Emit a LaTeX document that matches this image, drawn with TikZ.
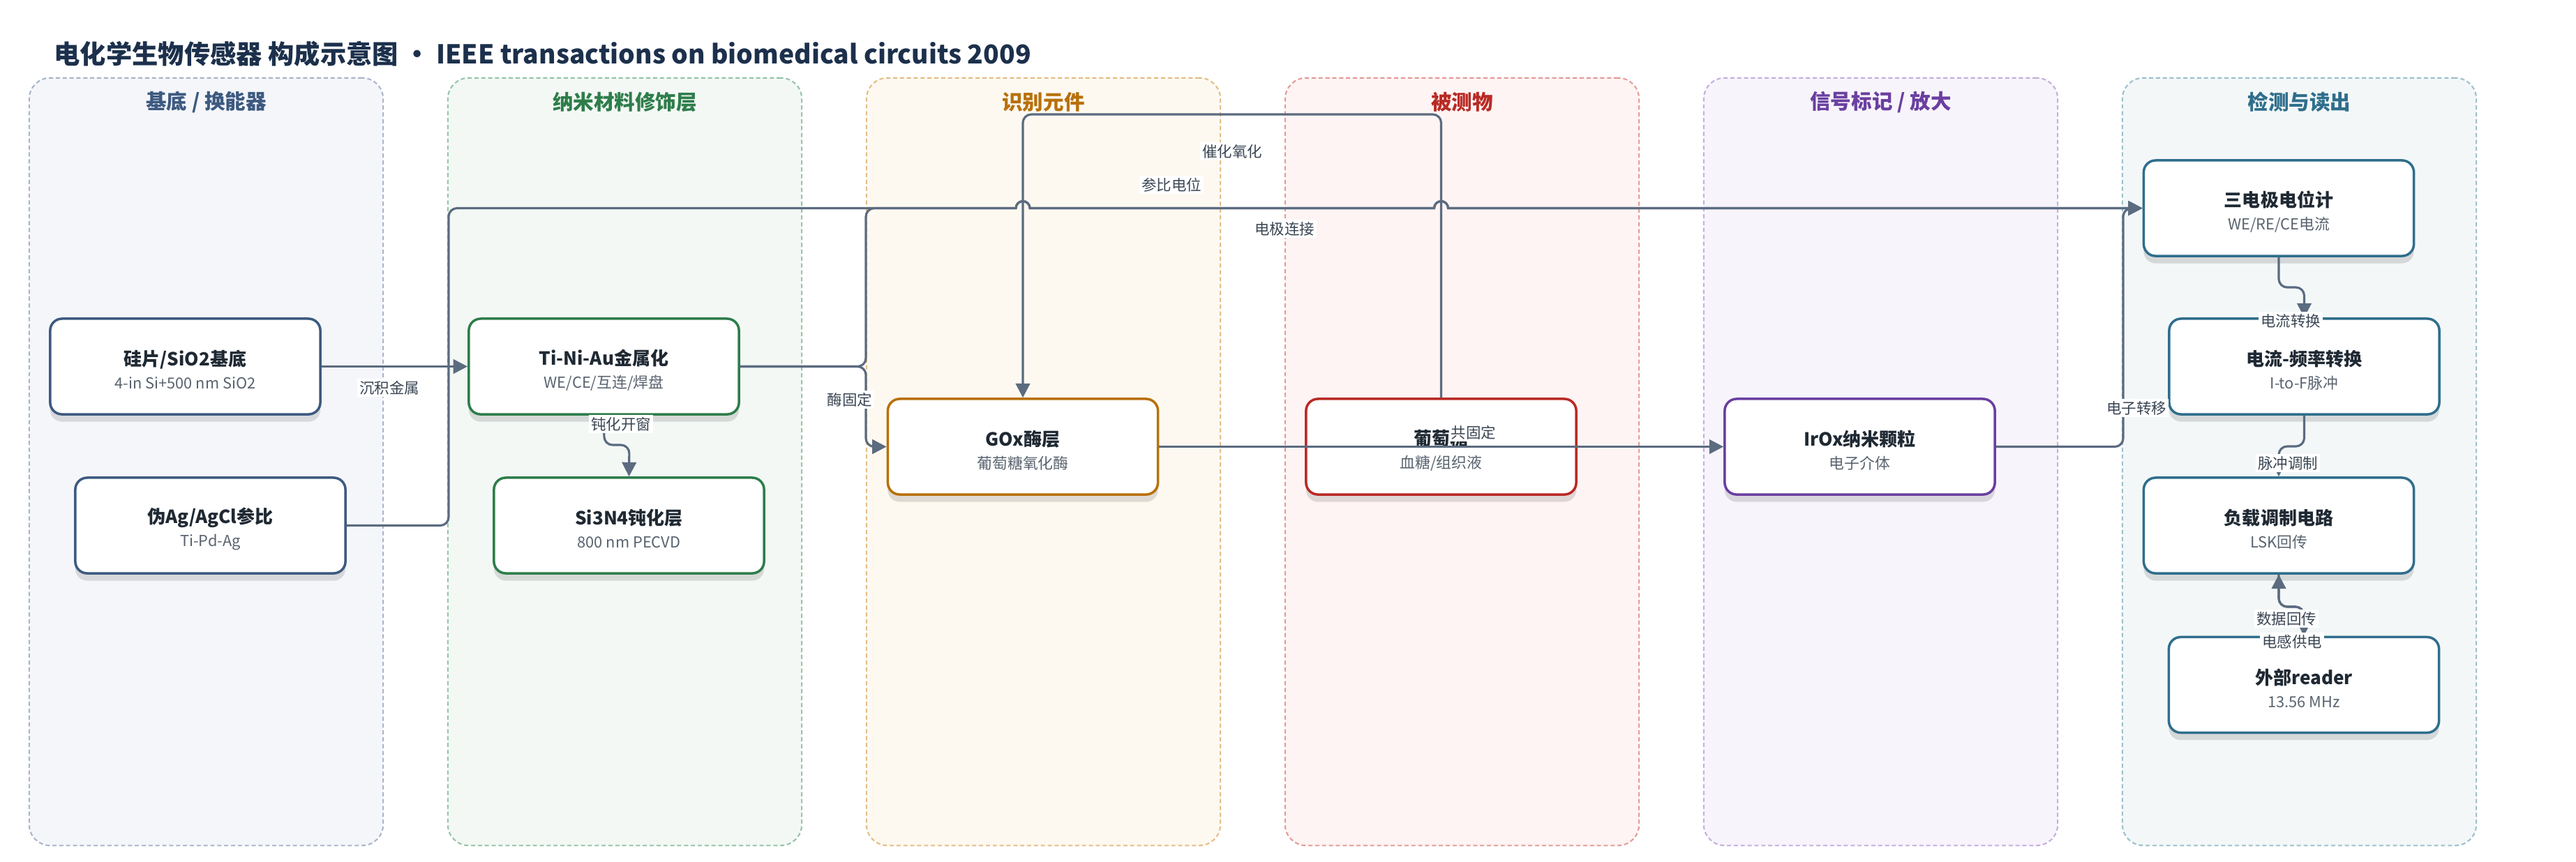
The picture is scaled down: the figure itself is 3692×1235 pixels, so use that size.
\documentclass[tikz,border=0pt]{standalone}
\usepackage{fontspec}
\setmainfont{Noto Sans CJK SC}
\usepackage{xcolor}
\usepackage{tikz}
\usetikzlibrary{arrows.meta,shadows,positioning}

\definecolor{titlec}{HTML}{1C304C}
\definecolor{wirec}{HTML}{5B6B80}
\definecolor{namec}{HTML}{1F2933}
\definecolor{subc}{HTML}{59636F}
\definecolor{lblc}{HTML}{3A4654}
% lanes: fill / border / ink
\definecolor{subfill}{HTML}{F5F6FA}\definecolor{subline}{HTML}{A9B5C9}\definecolor{subink}{HTML}{3D5A80}
\definecolor{nanofill}{HTML}{F3F8F5}\definecolor{nanoline}{HTML}{96C5A6}\definecolor{nanoink}{HTML}{2E7D4A}
\definecolor{recfill}{HTML}{FDF9F1}\definecolor{recline}{HTML}{E4BE86}\definecolor{recink}{HTML}{B8700A}
\definecolor{anafill}{HTML}{FDF4F3}\definecolor{analine}{HTML}{E49C98}\definecolor{anaink}{HTML}{B92A25}
\definecolor{labfill}{HTML}{F7F4FB}\definecolor{labline}{HTML}{C5AFDD}\definecolor{labink}{HTML}{6A3FA0}
\definecolor{detfill}{HTML}{F3F7F8}\definecolor{detline}{HTML}{9EC1CC}\definecolor{detink}{HTML}{2F6E8C}

\tikzset{lane/.style={rectangle,rounded corners=0.3cm,dash pattern=on 1.7pt off 1.1pt,line width=0.6pt,minimum width=5.07cm,minimum height=11cm,inner sep=0pt}}
\tikzset{head/.style={font=\fontsize{8.4}{10}\selectfont\bfseries}}
\tikzset{box/.style={rectangle,rounded corners=0.17cm,draw,line width=1pt,fill=white,minimum width=3.87cm,minimum height=1.37cm,align=center,inner sep=0pt,font=\fontsize{6.2}{9.4}\selectfont,drop shadow={shadow xshift=0pt,shadow yshift=-3pt,opacity=0.12,fill=black}}}
\tikzset{wire/.style={draw=wirec,line width=0.9pt,rounded corners=0.12cm}}
\tikzset{lbl/.style={fill=white,inner sep=0.8pt,font=\fontsize{6.1}{7}\selectfont,text=lblc}}
\newcommand{\boxtext}[2]{\rule{0pt}{9.1pt}{\fontsize{7.4}{9.4}\selectfont\bfseries\color{namec}#1}\\{\color{subc}#2}}

\begin{document}
\begin{tikzpicture}[x=0.01cm,y=-0.01cm,>={Triangle[length=5.8pt,width=5.8pt]}]
    \useasboundingbox (0,0) rectangle (3692,1235);

    % lanes
    \node[lane,draw=subline,fill=subfill] (lsub) at (295.5,662) {};
    \node[lane,draw=nanoline,fill=nanofill] (lnano) at (895.5,662) {};
    \node[lane,draw=recline,fill=recfill] (lrec) at (1495.5,662) {};
    \node[lane,draw=analine,fill=anafill] (lana) at (2095.5,662) {};
    \node[lane,draw=labline,fill=labfill] (llab) at (2695.5,662) {};
    \node[lane,draw=detline,fill=detfill] (ldet) at (3295.5,662) {};

    \node[anchor=west,inner sep=0pt,text=titlec,font=\fontsize{10.6}{12}\selectfont\bfseries] (title) at (77,77) {电化学生物传感器 构成示意图 · IEEE transactions on biomedical circuits 2009};

    \node[head,text=subink] (hsub) at (295.5,146) {基底 / 换能器};
    \node[head,text=nanoink] (hnano) at (895.5,146) {纳米材料修饰层};
    \node[head,text=recink] (hrec) at (1495.5,146) {识别元件};
    \node[head,text=anaink] (hana) at (2095.5,146) {被测物};
    \node[head,text=labink] (hlab) at (2695.5,146) {信号标记 / 放大};
    \node[head,text=detink] (hdet) at (3295.5,146) {检测与读出};

    % blocks
    \node[box,draw=subink] (sub) at (265.5,525.5) {\boxtext{硅片/SiO2基底}{4-in Si+500 nm SiO2}};
    \node[box,draw=subink] (agcl) at (301.5,753.5) {\boxtext{伪Ag/AgCl参比}{Ti-Pd-Ag}};
    \node[box,draw=nanoink] (tiau) at (865.5,525.5) {\boxtext{Ti-Ni-Au金属化}{WE/CE/互连/焊盘}};
    \node[box,draw=nanoink] (si3n4) at (901.5,753.5) {\boxtext{Si3N4钝化层}{800 nm PECVD}};
    \node[box,draw=recink] (gox) at (1466,640.5) {\boxtext{GOx酶层}{葡萄糖氧化酶}};
    \node[box,draw=anaink] (glu) at (2065.5,640.5) {\boxtext{葡萄糖}{血糖/组织液}};
    \node[box,draw=labink] (irox) at (2665.5,640.5) {\boxtext{IrOx纳米颗粒}{电子介体}};
    \node[box,draw=detink] (ref3) at (3266,298.5) {\boxtext{三电极电位计}{WE/RE/CE电流}};
    \node[box,draw=detink] (itof) at (3302.5,525.5) {\boxtext{电流-频率转换}{I-to-F脉冲}};
    \node[box,draw=detink] (load) at (3266,753.5) {\boxtext{负载调制电路}{LSK回传}};
    \node[box,draw=detink] (reader) at (3302,982) {\boxtext{外部reader}{13.56 MHz}};

    % connectors
    \draw [wire,->] (sub) -- (tiau);
    \draw [wire,->] (tiau.south) -- (866,638) -- (902,638) -- (si3n4.north);
    \draw [wire,->] (agcl.east) -- (643,753.5) -- (643,298.5) -- (1200,298.5) [sharp corners] -- (1456,298.5)
        arc[start angle=180,end angle=0,radius=0.1cm] -- (2055.5,298.5)
        arc[start angle=180,end angle=0,radius=0.1cm] -- (ref3.west);
    \draw [wire,->] (tiau.east) -- (1241,525.5) -- (1241,298.5) -- (1300,298.5) [sharp corners] -- (1456,298.5)
        arc[start angle=180,end angle=0,radius=0.1cm] -- (2055.5,298.5)
        arc[start angle=180,end angle=0,radius=0.1cm] -- (ref3.west);
    \draw [wire,->] (tiau.east) -- (1241,525.5) -- (1241,640.5) -- (gox.west);
    \draw [wire,->] (glu.north) -- (2065.5,164) -- (1466,164) -- (gox.north);
    \draw [wire,->] (gox) -- (irox);
    \draw [wire,->] (irox.east) -- (3043,640.5) -- (3043,298.5) -- (ref3.west);
    \draw [wire,->] (ref3.south) -- (3266,412) -- (3302.5,412) -- (itof.north);
    \draw [wire,->] (itof.south) -- (3302.5,640) -- (3266,640) -- (load.north);
    \draw [wire,->] (reader.north) -- (3302,870) -- (3266,870) -- (load.south);
    \draw [wire,->] (load.south) -- (3266,870) -- (3302,870) -- (reader.north);

    % connector labels
    \node[lbl] (ldep) at (558,556) {沉积金属};
    \node[lbl] (lpas) at (890,608) {钝化开窗};
    \node[lbl] (lref) at (1679,265) {参比电位};
    \node[lbl] (lcat) at (1766,217) {催化氧化};
    \node[lbl] (lcon) at (1841,328) {电极连接};
    \node[lbl] (limm) at (1218,573) {酶固定};
    \node[lbl] (lco) at (2112,620) {共固定};
    \node[lbl] (let) at (3062,585) {电子转移};
    \node[lbl] (lcur) at (3283,460) {电流转换};
    \node[lbl] (lpul) at (3279,664) {脉冲调制};
    \node[lbl] (ldat) at (3277,887) {数据回传};
    \node[lbl] (lpow) at (3285,920) {电感供电};
\end{tikzpicture}
\end{document}
